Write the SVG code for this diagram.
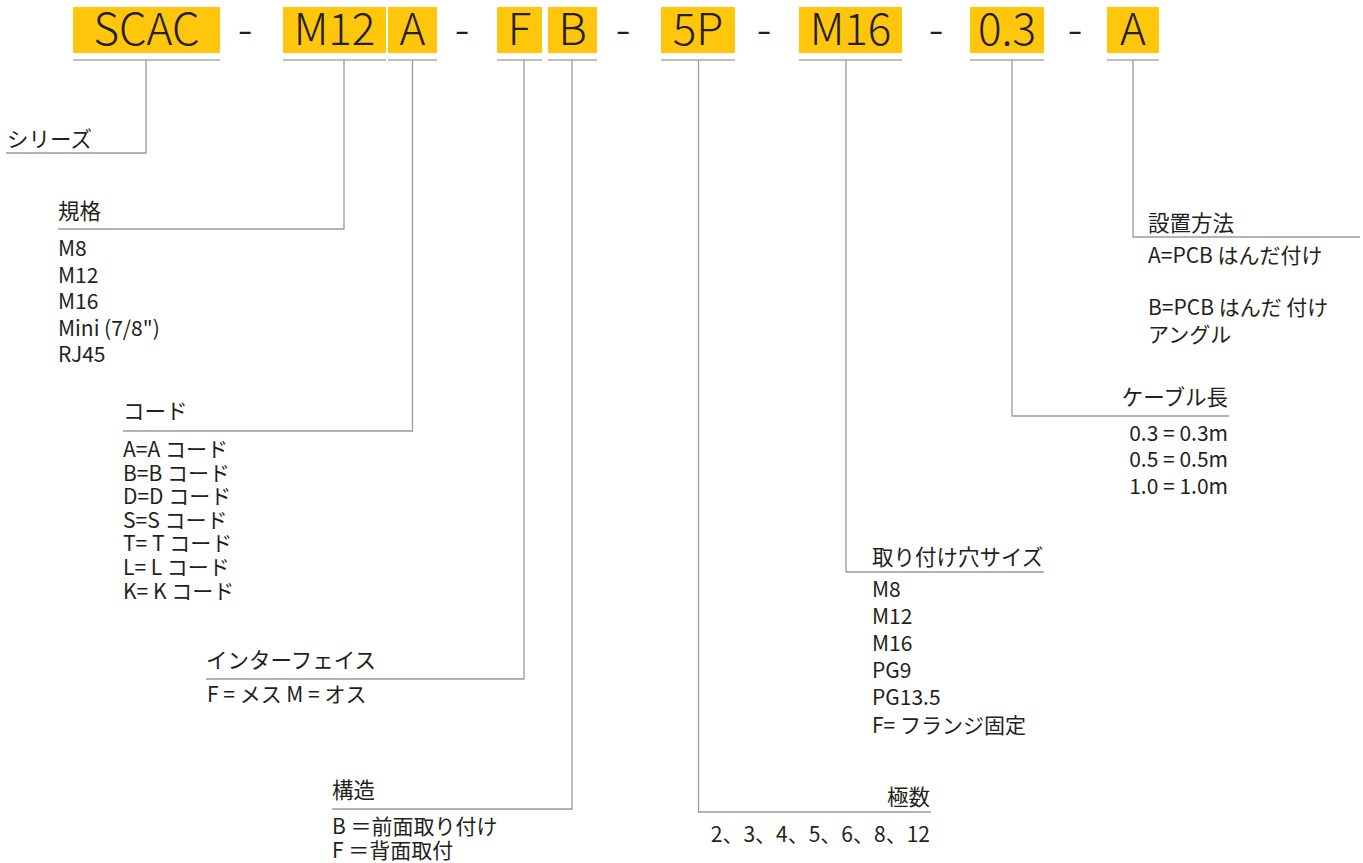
<svg xmlns="http://www.w3.org/2000/svg" width="1363" height="863" viewBox="0 0 1363 863">
<style>
text{font-family:"Noto Sans CJK JP","Noto Sans",sans-serif;fill:#231f20}
.code{font-size:44px;text-anchor:middle;font-weight:300}
.dash{font-size:44px;text-anchor:middle;font-weight:300}
.box{fill:#FFC60B}
.ul{stroke:#ababab;stroke-width:1.5;fill:none}
.ln{stroke:#9a9a9a;stroke-width:1.3;fill:none}
.h{font-size:21.5px}
.i{font-size:21px}
.r{text-anchor:end}
</style>
<rect width="1363" height="863" fill="#ffffff"/>
<g id="code-row">
<g id="seg-scac"><rect class="box" x="73" y="7" width="147" height="46"/><text class="code" x="146.5" y="45">SCAC</text></g>
<text class="dash" x="245" y="45">-</text>
<g id="seg-m12"><rect class="box" x="283" y="7" width="103" height="46"/><text class="code" x="334.5" y="45">M12</text></g>
<g id="seg-a1"><rect class="box" x="388" y="7" width="49" height="46"/><text class="code" x="412.5" y="45">A</text></g>
<text class="dash" x="462" y="45">-</text>
<g id="seg-f"><rect class="box" x="497" y="7" width="45" height="46"/><text class="code" x="519.5" y="45">F</text></g>
<g id="seg-b"><rect class="box" x="548" y="7" width="49" height="46"/><text class="code" x="572.5" y="45">B</text></g>
<text class="dash" x="623" y="45">-</text>
<g id="seg-5p"><rect class="box" x="661" y="7" width="74" height="46"/><text class="code" x="698" y="45">5P</text></g>
<text class="dash" x="764" y="45">-</text>
<g id="seg-m16"><rect class="box" x="799" y="7" width="103" height="46"/><text class="code" x="850.5" y="45">M16</text></g>
<text class="dash" x="936" y="45">-</text>
<g id="seg-03"><rect class="box" x="970" y="7" width="74" height="46"/><text class="code" x="1007" y="45">0.3</text></g>
<text class="dash" x="1075" y="45">-</text>
<g id="seg-a2"><rect class="box" x="1107" y="7" width="52" height="46"/><text class="code" x="1133" y="45">A</text></g>
</g>
<g id="connectors">
<path class="ul" d="M73 60H220M283 60H386M388 60H437M497 60H542M548 60H597M661 60H735M799 60H902M970 60H1044M1107 60H1159"/>
<path class="ln" d="M146 60V153H6"/>
<path class="ln" d="M344 60V229H58"/>
<path class="ln" d="M412.5 60V431H123"/>
<path class="ln" d="M524 60V679H206"/>
<path class="ln" d="M572 60V809H332"/>
<path class="ln" d="M698.5 60V812H931"/>
<path class="ln" d="M846 60V572H1044"/>
<path class="ln" d="M1012 60V416H1229"/>
<path class="ln" d="M1133 60V237H1360"/>
</g>
<g id="series"><text class="h" x="7" y="146.5">シリーズ</text></g>
<g id="standard">
<text class="h" x="58" y="218.5">規格</text>
<text class="i" x="58" y="256">M8</text>
<text class="i" x="58" y="282.5">M12</text>
<text class="i" x="58" y="309">M16</text>
<text class="i" x="58" y="335.5">Mini (7/8")</text>
<text class="i" x="58" y="362">RJ45</text>
</g>
<g id="coding">
<text class="h" x="123" y="418.5">コード</text>
<text class="i" x="123" y="457">A=A コード</text>
<text class="i" x="123" y="480.6">B=B コード</text>
<text class="i" x="123" y="504.2">D=D コード</text>
<text class="i" x="123" y="527.8">S=S コード</text>
<text class="i" x="123" y="551.4">T= T コード</text>
<text class="i" x="123" y="575">L= L コード</text>
<text class="i" x="123" y="598.6">K= K コード</text>
</g>
<g id="interface">
<text class="h" x="206" y="668">インターフェイス</text>
<text class="i" x="207" y="701.5">F = メス M = オス</text>
</g>
<g id="structure">
<text class="h" x="332" y="797.5">構造</text>
<text class="i" x="332" y="834">B ＝前面取り付け</text>
<text class="i" x="332" y="858">F ＝背面取付</text>
</g>
<g id="poles">
<text class="h r" x="930" y="805">極数</text>
<text class="i r" x="930" y="841.5">2、3、4、5、6、8、12</text>
</g>
<g id="mounting-hole">
<text class="h" x="872" y="565">取り付け穴サイズ</text>
<text class="i" x="872" y="596.5">M8</text>
<text class="i" x="872" y="623.7">M12</text>
<text class="i" x="872" y="650.9">M16</text>
<text class="i" x="872" y="678.1">PG9</text>
<text class="i" x="872" y="705.3">PG13.5</text>
<text class="i" x="872" y="732.5">F= フランジ固定</text>
</g>
<g id="cable-length">
<text class="h r" x="1228" y="405">ケーブル長</text>
<text class="i r" x="1228" y="440.5">0.3 = 0.3m</text>
<text class="i r" x="1228" y="467">0.5 = 0.5m</text>
<text class="i r" x="1228" y="493.5">1.0 = 1.0m</text>
</g>
<g id="installation">
<text class="h" x="1148" y="230.5">設置方法</text>
<text class="i" x="1148" y="263">A=PCB はんだ付け</text>
<text class="i" x="1148" y="314.5">B=PCB はんだ 付け</text>
<text class="i" x="1148" y="341.5">アングル</text>
</g>
</svg>
